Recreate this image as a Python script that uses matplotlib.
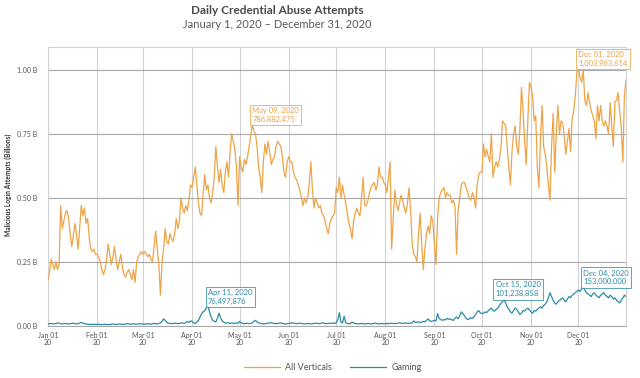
import matplotlib
matplotlib.use("Agg")
import matplotlib.pyplot as plt
import numpy as np
import pandas as pd

plt.rcParams['font.family'] = ['Lato', 'DejaVu Sans']

# daily malicious login attempts, in billions
all_jan = [0.18, 0.21, 0.26, 0.24, 0.22, 0.25, 0.22, 0.24, 0.47, 0.38, 0.41, 0.44, 0.45, 0.42, 0.36, 0.31,
           0.35, 0.40, 0.36, 0.30, 0.38, 0.47, 0.43, 0.46, 0.40, 0.42, 0.35, 0.30, 0.29, 0.30, 0.28]
all_feb = [0.28, 0.27, 0.25, 0.22, 0.20, 0.22, 0.26, 0.32, 0.28, 0.24, 0.27, 0.31, 0.26, 0.22, 0.25,
           0.28, 0.23, 0.20, 0.19, 0.21, 0.22, 0.20, 0.18, 0.22, 0.17, 0.25, 0.27, 0.28, 0.29]
all_mar = [0.28, 0.29, 0.28, 0.27, 0.28, 0.26, 0.25, 0.31, 0.37, 0.30, 0.24, 0.12, 0.25, 0.30, 0.38, 0.33,
           0.32, 0.36, 0.34, 0.33, 0.36, 0.42, 0.38, 0.41, 0.50, 0.46, 0.44, 0.47, 0.45, 0.49, 0.55]
all_apr = [0.54, 0.58, 0.62, 0.55, 0.48, 0.44, 0.43, 0.52, 0.59, 0.53, 0.55, 0.50, 0.48, 0.52, 0.58,
           0.70, 0.62, 0.56, 0.61, 0.55, 0.52, 0.60, 0.64, 0.58, 0.68, 0.75, 0.72, 0.69, 0.62, 0.47]
all_may = [0.66, 0.62, 0.60, 0.65, 0.63, 0.66, 0.70, 0.74, 0.787, 0.76, 0.75, 0.70, 0.62, 0.58, 0.52, 0.64,
           0.71, 0.67, 0.72, 0.68, 0.63, 0.65, 0.66, 0.70, 0.72, 0.71, 0.70, 0.66, 0.60, 0.58, 0.64]
all_jun = [0.66, 0.64, 0.64, 0.60, 0.58, 0.57, 0.55, 0.53, 0.50, 0.47, 0.50, 0.48, 0.50, 0.56, 0.64,
           0.53, 0.46, 0.50, 0.48, 0.46, 0.47, 0.44, 0.43, 0.41, 0.38, 0.36, 0.40, 0.42, 0.43, 0.44]
all_jul = [0.54, 0.52, 0.58, 0.50, 0.55, 0.51, 0.48, 0.44, 0.40, 0.38, 0.34, 0.41, 0.44, 0.46, 0.44, 0.43,
           0.50, 0.58, 0.47, 0.47, 0.49, 0.52, 0.54, 0.55, 0.56, 0.53, 0.55, 0.62, 0.58, 0.58, 0.56]
all_aug = [0.55, 0.52, 0.58, 0.64, 0.30, 0.42, 0.53, 0.48, 0.45, 0.48, 0.51, 0.49, 0.46, 0.44, 0.48, 0.54,
           0.45, 0.32, 0.28, 0.27, 0.25, 0.36, 0.44, 0.32, 0.22, 0.30, 0.36, 0.39, 0.36, 0.43, 0.41]
all_sep = [0.32, 0.24, 0.42, 0.50, 0.52, 0.53, 0.54, 0.50, 0.52, 0.51, 0.51, 0.48, 0.49, 0.47, 0.28,
           0.45, 0.50, 0.55, 0.56, 0.56, 0.54, 0.52, 0.50, 0.49, 0.52, 0.50, 0.46, 0.55, 0.59, 0.60]
all_oct = [0.60, 0.71, 0.66, 0.69, 0.66, 0.64, 0.75, 0.58, 0.62, 0.64, 0.62, 0.65, 0.69, 0.80, 0.79, 0.78,
           0.70, 0.62, 0.55, 0.68, 0.75, 0.78, 0.70, 0.67, 0.77, 0.93, 0.84, 0.72, 0.63, 0.80, 0.95]
all_nov = [0.93, 0.90, 0.80, 0.82, 0.62, 0.54, 0.73, 0.86, 0.70, 0.67, 0.62, 0.55, 0.49, 0.70, 0.83,
           0.60, 0.75, 0.86, 0.75, 0.80, 0.79, 0.74, 0.67, 0.72, 0.77, 0.68, 0.81, 0.84, 0.90, 0.99]
all_dec = [1.004, 0.97, 0.95, 1.00, 0.88, 0.86, 0.91, 0.87, 0.84, 0.82, 0.80, 0.73, 0.86, 0.80, 0.86, 0.80,
           0.78, 0.80, 0.78, 0.75, 0.87, 0.78, 0.70, 0.875, 0.88, 0.91, 0.84, 0.78, 0.64, 0.90, 0.96]

gam_jan = [0.008, 0.009, 0.010, 0.009, 0.008, 0.010, 0.012, 0.011, 0.009, 0.008, 0.009, 0.010, 0.009, 0.008,
           0.009, 0.010, 0.011, 0.009, 0.008, 0.009, 0.012, 0.014, 0.011, 0.009, 0.008, 0.007, 0.006, 0.007,
           0.006, 0.007, 0.006]
gam_feb = [0.006, 0.007, 0.006, 0.005, 0.006, 0.007, 0.006, 0.005, 0.006, 0.007, 0.008, 0.007, 0.006, 0.007,
           0.008, 0.007, 0.006, 0.007, 0.008, 0.009, 0.008, 0.007, 0.008, 0.009, 0.008, 0.007, 0.008, 0.009,
           0.008]
gam_mar = [0.008, 0.007, 0.008, 0.009, 0.008, 0.007, 0.009, 0.010, 0.009, 0.008, 0.010, 0.012, 0.018, 0.028,
           0.022, 0.014, 0.011, 0.010, 0.009, 0.010, 0.011, 0.010, 0.009, 0.010, 0.012, 0.011, 0.010, 0.013,
           0.018, 0.014, 0.020]
gam_apr = [0.018, 0.012, 0.010, 0.015, 0.022, 0.035, 0.048, 0.055, 0.060, 0.072, 0.0765, 0.055, 0.035, 0.022,
           0.018, 0.016, 0.030, 0.050, 0.032, 0.020, 0.015, 0.012, 0.011, 0.013, 0.010, 0.012, 0.011, 0.010,
           0.012, 0.011]
gam_may = [0.018, 0.012, 0.010, 0.009, 0.010, 0.011, 0.009, 0.010, 0.012, 0.018, 0.022, 0.016, 0.012, 0.010,
           0.009, 0.008, 0.009, 0.010, 0.011, 0.012, 0.013, 0.011, 0.010, 0.009, 0.010, 0.011, 0.012, 0.010,
           0.009, 0.008, 0.009]
gam_jun = [0.010, 0.011, 0.012, 0.011, 0.010, 0.009, 0.010, 0.011, 0.010, 0.009, 0.008, 0.009, 0.010, 0.009,
           0.008, 0.009, 0.010, 0.011, 0.010, 0.009, 0.010, 0.012, 0.011, 0.010, 0.009, 0.010, 0.011, 0.010,
           0.012, 0.010]
gam_jul = [0.012, 0.025, 0.052, 0.015, 0.012, 0.038, 0.012, 0.010, 0.009, 0.010, 0.015, 0.012, 0.010, 0.009,
           0.008, 0.009, 0.010, 0.009, 0.008, 0.009, 0.010, 0.009, 0.008, 0.009, 0.010, 0.011, 0.009, 0.008,
           0.009, 0.010, 0.009]
gam_aug = [0.009, 0.010, 0.009, 0.010, 0.011, 0.010, 0.009, 0.010, 0.011, 0.012, 0.011, 0.010, 0.011, 0.012,
           0.011, 0.010, 0.012, 0.011, 0.020, 0.014, 0.015, 0.016, 0.014, 0.015, 0.018, 0.016, 0.022, 0.028,
           0.020, 0.018, 0.020]
gam_sep = [0.022, 0.020, 0.048, 0.030, 0.025, 0.022, 0.025, 0.024, 0.030, 0.026, 0.028, 0.024, 0.022, 0.030,
           0.035, 0.028, 0.040, 0.055, 0.048, 0.040, 0.030, 0.025, 0.028, 0.032, 0.030, 0.035, 0.045, 0.055,
           0.060, 0.052]
gam_oct = [0.048, 0.050, 0.055, 0.052, 0.060, 0.065, 0.070, 0.060, 0.058, 0.065, 0.070, 0.080, 0.088, 0.095,
           0.101, 0.090, 0.075, 0.065, 0.055, 0.050, 0.060, 0.070, 0.065, 0.055, 0.045, 0.050, 0.060, 0.058,
           0.065, 0.070, 0.062]
gam_nov = [0.055, 0.050, 0.060, 0.058, 0.065, 0.070, 0.075, 0.070, 0.080, 0.085, 0.095, 0.110, 0.130, 0.115,
           0.100, 0.090, 0.085, 0.095, 0.100, 0.105, 0.110, 0.100, 0.095, 0.105, 0.115, 0.110, 0.120, 0.125,
           0.130, 0.135]
gam_dec = [0.140, 0.135, 0.145, 0.153, 0.140, 0.130, 0.125, 0.120, 0.115, 0.125, 0.130, 0.120, 0.115, 0.110,
           0.120, 0.125, 0.130, 0.120, 0.115, 0.110, 0.120, 0.115, 0.105, 0.110, 0.100, 0.095, 0.090, 0.100,
           0.110, 0.120, 0.115]

# highlighted days: (date, exact count) -- the Dec 04 count is hidden in the source, estimated
all_callouts = [('2020-05-09', 786882475), ('2020-12-01', 1003963614)]
gam_callouts = [('2020-04-11', 76497876), ('2020-10-15', 101238858), ('2020-12-04', 153000000)]

y_ticks = [0.0, 0.25, 0.50, 0.75, 1.00]

dates = pd.date_range('2020-01-01', '2020-12-31', freq='D')
all_verticals = np.array(all_jan + all_feb + all_mar + all_apr + all_may + all_jun +
                         all_jul + all_aug + all_sep + all_oct + all_nov + all_dec)
gaming = np.array(gam_jan + gam_feb + gam_mar + gam_apr + gam_may + gam_jun +
                  gam_jul + gam_aug + gam_sep + gam_oct + gam_nov + gam_dec)
month_ticks = pd.date_range('2020-01-01', '2020-12-01', freq='MS')

ORANGE = '#EDA447'
TEAL = '#2C8CA6'
TXT = '#555555'

fig = plt.figure(figsize=(6.4, 3.78), dpi=100)
ax = fig.add_axes([48 / 640, 1 - 326 / 378, (626 - 48) / 640, (326 - 46.5) / 378])

ax.plot(dates, all_verticals, color=ORANGE, lw=0.9, label='All Verticals', zorder=3)
ax.plot(dates, gaming, color=TEAL, lw=0.9, label='Gaming', zorder=3)

ax.set_xlim(dates[0], dates[-1])
ax.set_ylim(0, 1.09)

ax.set_xticks(month_ticks)
ax.set_xticklabels(["%s\n%s" % (d.strftime('%b %d'), d.strftime('%y')) for d in month_ticks],
                   fontsize=5, color=TXT, linespacing=1.1)
ax.set_yticks(y_ticks)
ax.set_yticklabels(["%.2f B" % v for v in y_ticks], fontsize=5, color=TXT)
ax.tick_params(length=0)
ax.tick_params(axis='y', pad=8)
ax.tick_params(axis='x', pad=4)

ax.grid(axis='x', color='#d2d2d2', lw=0.8)
ax.grid(axis='y', color='#a8a8a8', lw=0.8)
ax.set_axisbelow(True)
for side in ['top', 'right', 'left']:
    ax.spines[side].set_color('#d2d2d2')
    ax.spines[side].set_linewidth(0.8)
ax.spines['bottom'].set_color('#a8a8a8')
ax.spines['bottom'].set_linewidth(0.8)

# callout boxes
def callout(day, count, color, offset):
    d = pd.Timestamp(day)
    ax.annotate("%s\n%s" % (d.strftime('%b %d, %Y'), format(count, ',')),
                xy=(d, count / 1e9), xytext=offset, textcoords='offset points',
                ha='left', va='bottom', fontsize=5.5, color=color, linespacing=1.3,
                bbox=dict(boxstyle='square,pad=0.3', fc='white', ec=color, lw=0.6, alpha=0.9),
                zorder=5, annotation_clip=False)

for (day, count), off in zip(all_callouts, [(0, 1), (0, 1)]):
    callout(day, count, ORANGE, off)
for (day, count), off in zip(gam_callouts, [(0, 1), (-6, 2), (0, 1)]):
    callout(day, count, TEAL, off)

fig.text(277 / 640, 1 - 10 / 378, 'Daily Credential Abuse Attempts', ha='center', va='center',
         fontsize=8.5, fontweight='bold', color='#4a4a4a')
fig.text(277 / 640, 1 - 24 / 378, 'January 1, 2020 \u2013 December 31, 2020', ha='center', va='center',
         fontsize=8, fontweight='normal', color='#5a5a5a')
fig.text(8 / 640, 1 - 185 / 378, 'Malicious Login Attempts (Billions)', rotation=90, ha='center',
         va='center', fontsize=4.8, fontweight='bold', color='#333333')

fig.legend(loc='center', bbox_to_anchor=(333 / 640, 1 - 368 / 378), ncol=2, frameon=False,
           fontsize=6.5, handlelength=4, columnspacing=2, handletextpad=0.6, labelcolor=TXT)

fig.savefig('out.png', dpi=100)
